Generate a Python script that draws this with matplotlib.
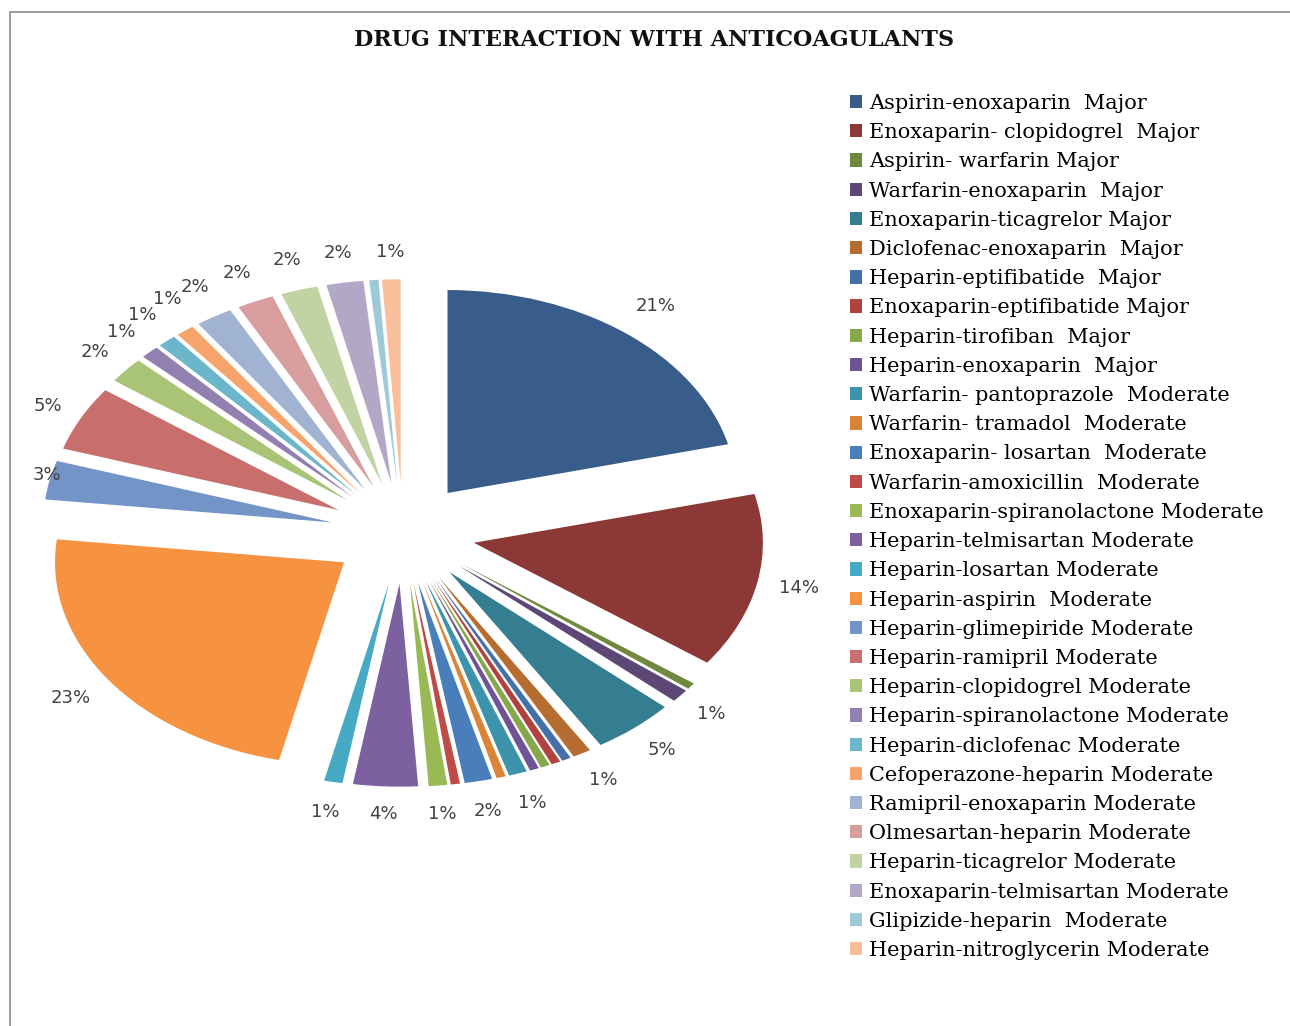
import numpy as np
import matplotlib
matplotlib.use("Agg")
import matplotlib.pyplot as plt
from matplotlib.patches import Rectangle

# interaction pairs (clockwise from 12 o'clock) and their counts
interactions = [
    "Aspirin-enoxaparin  Major", "Enoxaparin- clopidogrel  Major", "Aspirin- warfarin Major",
    "Warfarin-enoxaparin  Major", "Enoxaparin-ticagrelor Major", "Diclofenac-enoxaparin  Major",
    "Heparin-eptifibatide  Major", "Enoxaparin-eptifibatide Major", "Heparin-tirofiban  Major",
    "Heparin-enoxaparin  Major", "Warfarin- pantoprazole  Moderate", "Warfarin- tramadol  Moderate",
    "Enoxaparin- losartan  Moderate", "Warfarin-amoxicillin  Moderate",
    "Enoxaparin-spiranolactone Moderate", "Heparin-telmisartan Moderate",
    "Heparin-losartan Moderate", "Heparin-aspirin  Moderate", "Heparin-glimepiride Moderate",
    "Heparin-ramipril Moderate", "Heparin-clopidogrel Moderate", "Heparin-spiranolactone Moderate",
    "Heparin-diclofenac Moderate", "Cefoperazone-heparin Moderate", "Ramipril-enoxaparin Moderate",
    "Olmesartan-heparin Moderate", "Heparin-ticagrelor Moderate", "Enoxaparin-telmisartan Moderate",
    "Glipizide-heparin  Moderate", "Heparin-nitroglycerin Moderate",
]
counts = [41, 27, 1, 2, 9, 2, 1, 1, 1, 1, 2, 1, 3, 1, 2, 7, 2, 45, 6, 10,
          4, 2, 2, 2, 4, 4, 4, 4, 1, 2]

colours = [
    "#385D8A", "#8C3836", "#71893F", "#5C4776", "#357D91", "#B66D31",
    "#4470A8", "#B0423F", "#86A84A", "#6E5494", "#3D93AB", "#DB8337",
    "#4A7EBB", "#BE4B48", "#98B954", "#7D60A0", "#46AAC5", "#F69240",
    "#7394C6", "#C86F6E", "#A9C477", "#9280B0", "#6BB6CB", "#F7A46C",
    "#A1B3D3", "#D79E9D", "#C1D3A2", "#B3A7C7", "#9ECAD8", "#F9BF9A",
]

W, H = 1290, 1026
fig = plt.figure(figsize=(W / 100, H / 100), dpi=100)

# chart border (only left and top visible)
fig.patches.append(Rectangle((10 / W, -0.05), 1.2, 1 - 12 / H + 0.05,
                             transform=fig.transFigure, fill=False,
                             edgecolor="#8C8C8C", linewidth=1.2))

fig.text(0.507, 1 - 40 / H, "DRUG INTERACTION WITH ANTICOAGULANTS",
         ha="center", va="center", fontsize=16, fontweight="bold",
         family="DejaVu Serif", color="#111111")

# pie axes, stretched horizontally like the original
cx, cy = 403, 533
px_x, px_y = 289, 203
ax_w, ax_h = 1.3, 1.6
ax = fig.add_axes([(cx - ax_w * px_x) / W, (H - cy - ax_h * px_y) / H,
                   2 * ax_w * px_x / W, 2 * ax_h * px_y / H])

explode = [0.25] * len(counts)
wedges, _ = ax.pie(counts, colors=colours, startangle=90, counterclock=False,
                   explode=explode, wedgeprops=dict(linewidth=0))
ax.set_aspect("auto")
ax.set_xlim(-ax_w, ax_w)
ax.set_ylim(-ax_h, ax_h)
ax.axis("off")

# percentage labels just outside each slice, kept inside the chart frame
total = float(sum(counts))
placed = []
for w, c in zip(wedges, counts):
    pct = 100 * c / total
    if pct < 1:
        continue
    lab = "%d%%" % round(pct)
    th = np.deg2rad((w.theta1 + w.theta2) / 2)
    x0, y0 = w.center
    ex, ey = ax.transData.transform((x0 + np.cos(th), y0 + np.sin(th)))
    ux, uy = np.cos(th) * px_x, np.sin(th) * px_y
    n = np.hypot(ux, uy)
    ux, uy = ux / n, uy / n
    hw, hh = 7.5 * len(lab), 9
    off = 18 + hw * abs(ux) + hh * abs(uy)
    lx, ly = ex + off * ux, ey + off * uy
    lx = max(lx, 10 + hw + 22)
    # slide along the clockwise tangent if it bumps into the previous label
    tx, ty = uy, -ux
    if placed:
        px, py, pw = placed[-1]
        while abs(lx - px) < hw + pw - 2 and abs(ly - py) < 2 * hh - 2:
            lx += tx
            ly += ty
    placed.append((lx, ly, hw))
    fx, fy = fig.transFigure.inverted().transform((lx, ly))
    fig.text(fx, fy, lab, ha="center", va="center", fontsize=13,
             color="#404040", family="DejaVu Sans")

leg = fig.legend(wedges, interactions, loc="upper left",
                 bbox_to_anchor=(850 / W, 1 - 94 / H), frameon=False,
                 prop=dict(family="DejaVu Serif", size=15),
                 handlelength=0.6, handleheight=0.6, handletextpad=0.33,
                 labelspacing=0.49, borderaxespad=0, borderpad=0)

fig.savefig("out.png", dpi=100)
